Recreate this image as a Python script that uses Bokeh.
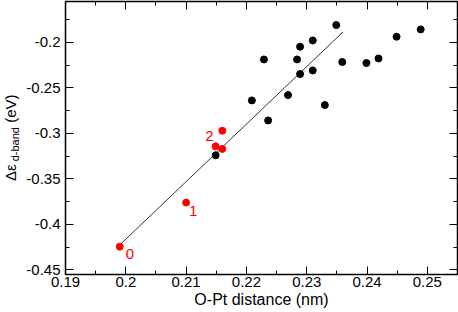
from bokeh.plotting import figure
from bokeh.layouts import row
from bokeh.models import (LinearAxis, FixedTicker, Range1d, Label, CustomLabelingPolicy, Div)
from bokeh.embed import file_html
from bokeh.resources import INLINE

# ---- data ----
black_x = [0.2149, 0.2209, 0.2229, 0.2236, 0.2269, 0.2284, 0.2289, 0.2289, 0.2310,
           0.2310, 0.2330, 0.2349, 0.2359, 0.2399, 0.2419, 0.2449, 0.2489]
black_y = [-0.324, -0.2637, -0.2187, -0.2857, -0.2578, -0.2187, -0.2047, -0.2347, -0.1978,
           -0.2308, -0.2688, -0.1809, -0.2215, -0.2226, -0.2176, -0.1937, -0.1857]
red_x = [0.1990, 0.2100, 0.2149, 0.2160, 0.2160]
red_y = [-0.4244, -0.3760, -0.3142, -0.3170, -0.2970]
red_labels = ["0", "1", "2"]
fit_x = [0.1990, 0.2360]
fit_y = [-0.4225, -0.1886]

x_ticks = [0.19, 0.20, 0.21, 0.22, 0.23, 0.24, 0.25]
x_tick_labels = ["0.19", "0.2", "0.21", "0.22", "0.23", "0.24", "0.25"]
x_minor = [0.195, 0.205, 0.215, 0.225, 0.235, 0.245]
y_ticks = [-0.45, -0.40, -0.35, -0.30, -0.25, -0.20]
y_tick_labels = ["-0.45", "-0.4", "-0.35", "-0.3", "-0.25", "-0.2"]
y_minor = [-0.425, -0.375, -0.325, -0.275, -0.225, -0.175]

x_title = "O-Pt distance (nm)"
y_title_main = "Δε"
y_title_sub = "d-band"
y_title_unit = " (eV)"

FONT = "Liberation Sans"
H = 312
TW = 22            # width of the strip holding the y title
W = 458 - TW
BL, BR, BT, BB = 65 - TW, 1, 1, 38
X0, X1 = 0.19, 0.255
Y0, Y1 = -0.455, -0.155

p = figure(width=W, height=H, output_backend="svg", toolbar_location=None,
           x_range=Range1d(X0, X1), y_range=Range1d(Y0, Y1),
           x_axis_type=None, y_axis_type=None,
           min_border_left=BL, min_border_right=BR, min_border_top=BT, min_border_bottom=BB)
p.grid.visible = False
p.background_fill_color = "white"
p.border_fill_color = "white"
p.outline_line_color = "black"
p.outline_line_width = 1.5
p.outline_line_alpha = 1.0


def make_axis(ticks, minor, labels, show_labels):
    ax = LinearAxis(ticker=FixedTicker(ticks=ticks, minor_ticks=minor))
    ax.major_label_overrides = {t: l for t, l in zip(ticks, labels)}
    ax.axis_line_color = None
    ax.major_tick_in = 8
    ax.major_tick_out = 0
    ax.minor_tick_in = 4
    ax.minor_tick_out = 0
    ax.major_tick_line_color = "black"
    ax.minor_tick_line_color = "black"
    ax.major_label_text_font = FONT
    ax.major_label_text_color = "black"
    if show_labels:
        ax.major_label_text_font_size = "15px"
    else:
        ax.major_label_text_font_size = "0px"
        ax.major_label_standoff = 0
        ax.major_label_policy = CustomLabelingPolicy(
            code="for (const i of indices) indices.unset(i); return indices")
    return ax


xb = make_axis(x_ticks, x_minor, x_tick_labels, True)
xb.major_label_standoff = 2
xb.axis_label = x_title
xb.axis_label_text_font = FONT
xb.axis_label_text_font_size = "16px"
xb.axis_label_text_font_style = "normal"
xb.axis_label_text_color = "black"
xb.axis_label_standoff = 1
p.add_layout(xb, "below")

xt = make_axis(x_ticks, x_minor, x_tick_labels, False)
p.add_layout(xt, "above")

yl = make_axis(y_ticks, y_minor, y_tick_labels, True)
yl.major_label_standoff = 5
p.add_layout(yl, "left")

yr = make_axis(y_ticks, y_minor, y_tick_labels, False)
p.add_layout(yr, "right")

# fit line
p.line(fit_x, fit_y, line_color="#333333", line_width=1)

# points
p.scatter(black_x, black_y, size=7, color="black")
p.scatter(red_x, red_y, size=7, color="#ff0000")

# red index labels
label_style = [(6, 7, "left"), (3, 8.5, "left"), (-2, -10, "right")]
for i, txt in enumerate(red_labels):
    dx, dy, al = label_style[i]
    p.add_layout(Label(x=red_x[i], y=red_y[i], text=txt, x_offset=dx, y_offset=-dy,
                       text_align=al, text_baseline="middle", text_color="#ff0000",
                       text_font=FONT, text_font_size="15px"))

# y axis title (rotated HTML text with a real subscript)
title_html = (
    '<div style="transform: translate(3px, 181px) rotate(-90deg); transform-origin: 0 0;'
    ' white-space: nowrap; font-family: \'Liberation Sans\', Arial, sans-serif;'
    ' font-size: 15px; line-height: 15px; color: black;">'
    f'{y_title_main}<span style="font-size: 11px; vertical-align: -3px; margin-left: 3px;">'
    f'{y_title_sub}</span>{y_title_unit}</div>'
)
t = Div(text=title_html, width=TW, height=H, styles={"margin": "0", "padding": "0",
                                                      "overflow": "visible"})

layout = row(t, p, spacing=0)
open("out.html", "w").write(file_html(layout, INLINE))
